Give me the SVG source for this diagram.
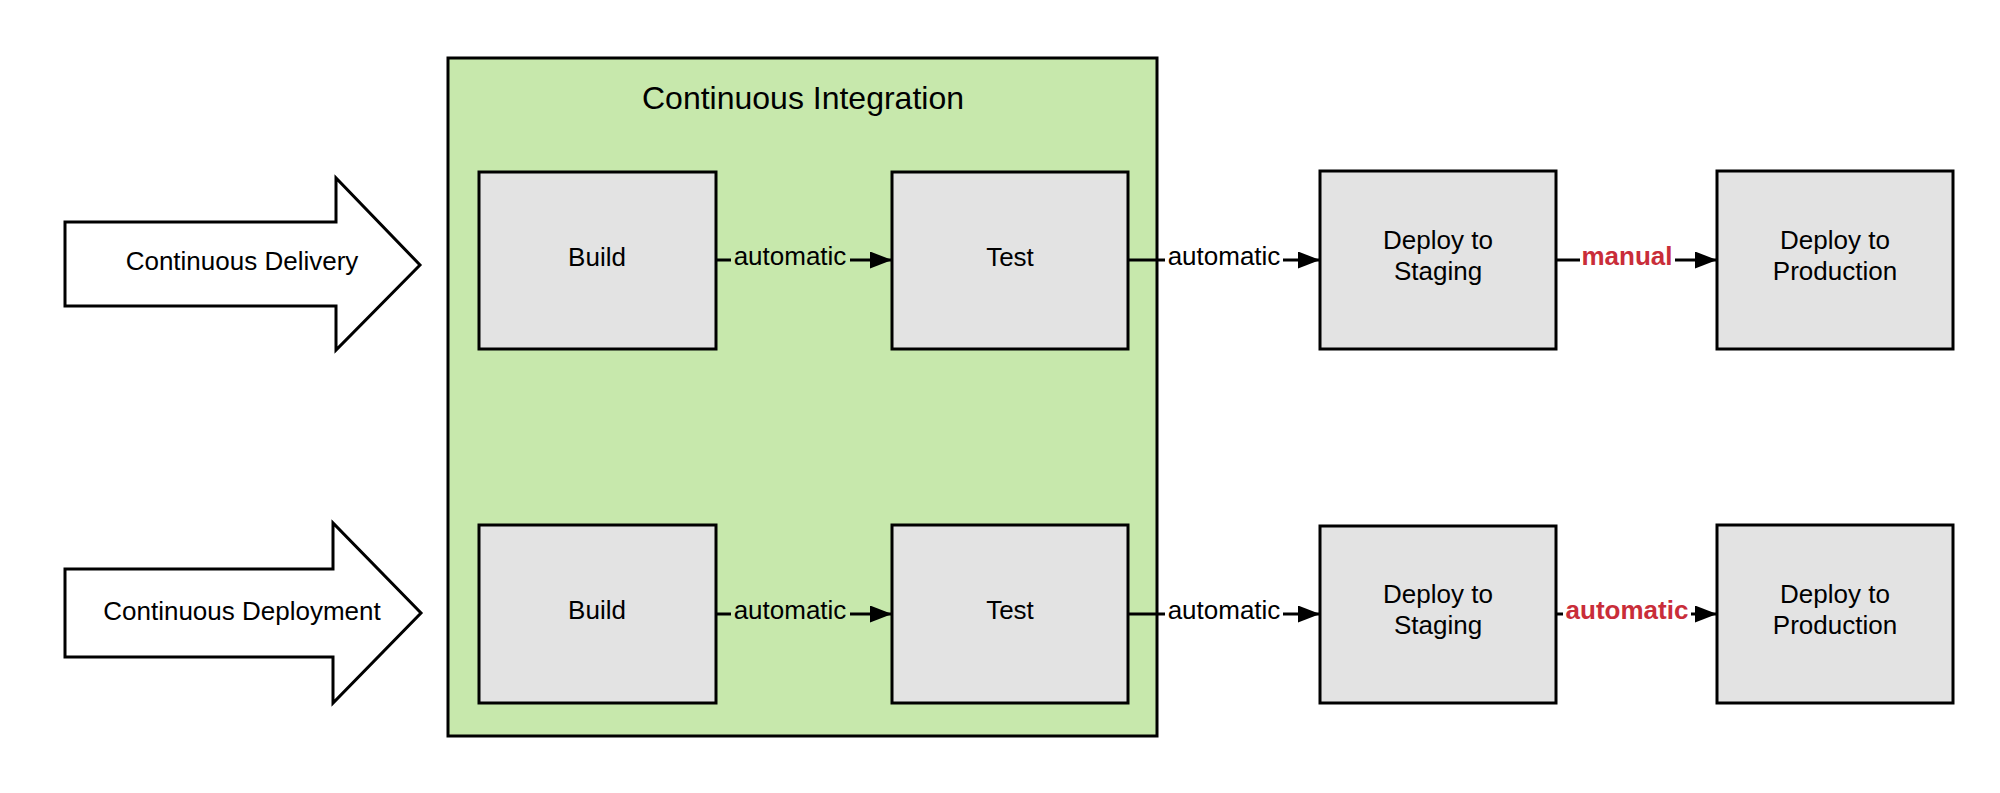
<svg xmlns="http://www.w3.org/2000/svg" width="2000" height="793" viewBox="0 0 2000 793">
<style>
text{font-family:"Liberation Sans",Arial,sans-serif;font-size:26px;fill:#000;text-anchor:middle}
.box{fill:#e3e3e3;stroke:#000;stroke-width:3}
.big{fill:#fff;stroke:#000;stroke-width:3;stroke-linejoin:miter}
.ci{fill:#c7e8ac;stroke:#000;stroke-width:3}
.title{font-size:32px}
.red{fill:#c92d39;font-weight:bold}
.conn{fill:none;stroke:#000;stroke-width:3;marker-end:url(#ah)}
</style>
<defs>
<marker id="ah" markerUnits="userSpaceOnUse" markerWidth="22" markerHeight="17" refX="22" refY="8.5" orient="auto" viewBox="0 0 22 17">
<path d="M0,0 L22,8.5 L0,17 z" fill="#000"/>
</marker>
</defs>
<rect width="2000" height="793" fill="#fff"/>
<g id="continuous-delivery">
<polygon class="big" points="65,222 336,222 336,178 420,265 336,350 336,306 65,306"/>
<text x="242" y="270">Continuous Delivery</text>
</g>
<g id="continuous-deployment">
<polygon class="big" points="65,569 333,569 333,523 421,613 333,703 333,657 65,657"/>
<text x="242" y="620">Continuous Deployment</text>
</g>
<g id="continuous-integration">
<rect class="ci" x="448" y="58" width="709" height="678"/>
<text class="title" x="803" y="109">Continuous Integration</text>
</g>
<g id="build-1"><rect class="box" x="479" y="172" width="237" height="177"/><text x="597" y="266">Build</text></g>
<g id="test-1"><rect class="box" x="892" y="172" width="236" height="177"/><text x="1010" y="266">Test</text></g>
<g id="staging-1"><rect class="box" x="1320" y="171" width="236" height="178"/><text x="1438" y="249">Deploy to</text><text x="1438" y="280">Staging</text></g>
<g id="production-1"><rect class="box" x="1717" y="171" width="236" height="178"/><text x="1835" y="249">Deploy to</text><text x="1835" y="280">Production</text></g>
<g id="build-2"><rect class="box" x="479" y="525" width="237" height="178"/><text x="597" y="619">Build</text></g>
<g id="test-2"><rect class="box" x="892" y="525" width="236" height="178"/><text x="1010" y="619">Test</text></g>
<g id="staging-2"><rect class="box" x="1320" y="526" width="236" height="177"/><text x="1438" y="603">Deploy to</text><text x="1438" y="634">Staging</text></g>
<g id="production-2"><rect class="box" x="1717" y="525" width="236" height="178"/><text x="1835" y="603">Deploy to</text><text x="1835" y="634">Production</text></g>
<g id="connectors">
<path class="conn" d="M716,260 H731 M850,260 H892"/>
<text x="790" y="265">automatic</text>
<path class="conn" d="M1128,260 H1165 M1283,260 H1320"/>
<text x="1224" y="265">automatic</text>
<path class="conn" d="M1556,260 H1580 M1675,260 H1717"/>
<text class="red" x="1627" y="265">manual</text>
<path class="conn" d="M716,614 H731 M850,614 H892"/>
<text x="790" y="619">automatic</text>
<path class="conn" d="M1128,614 H1165 M1283,614 H1320"/>
<text x="1224" y="619">automatic</text>
<path class="conn" d="M1556,614 H1563 M1691,614 H1717"/>
<text class="red" x="1627" y="619">automatic</text>
</g>
</svg>
